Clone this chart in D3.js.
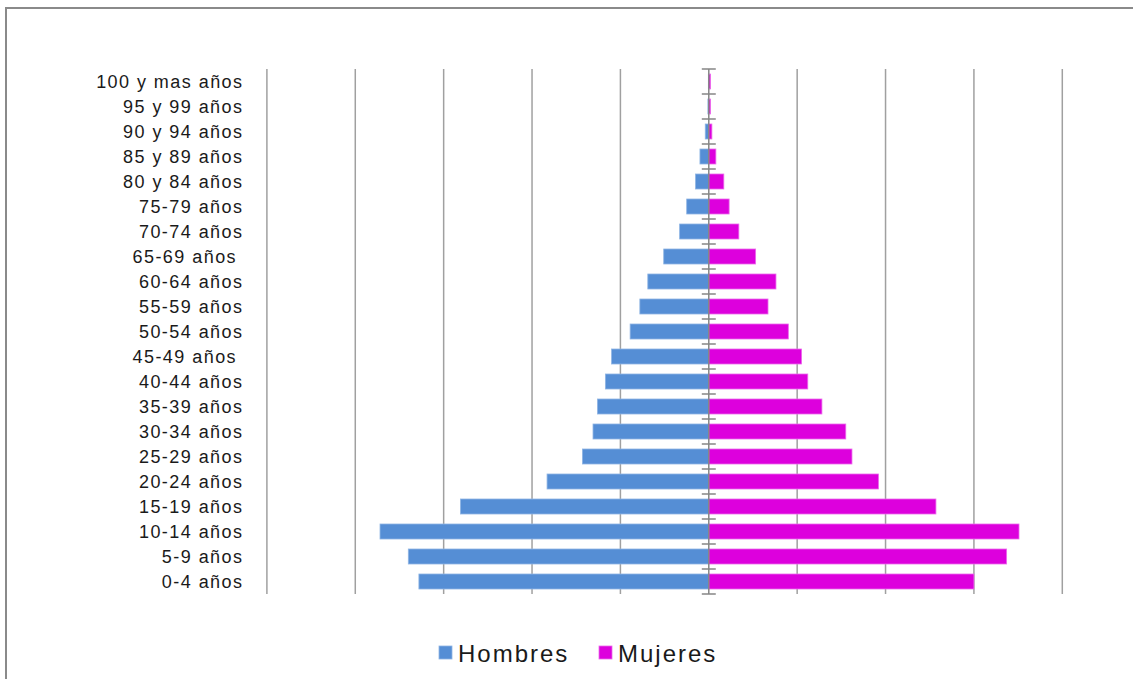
<!DOCTYPE html>
<html>
<head>
<meta charset="utf-8">
<script src="https://cdn.jsdelivr.net/npm/d3@7"></script>
<style>
  html, body { margin: 0; padding: 0; background: #fff; overflow: hidden; }
  svg { display: block; }
  text { font-family: "Liberation Sans", Arial, sans-serif; fill: #1a1a1a; white-space: pre; }
</style>
</head>
<body>
<svg id="chart" width="1133" height="679"></svg>
<script>
// Age groups, youngest first
const categories = [
  "0-4 años", "5-9 años", "10-14 años", "15-19 años", "20-24 años",
  "25-29 años", "30-34 años", "35-39 años", "40-44 años", "45-49 años ",
  "50-54 años", "55-59 años", "60-64 años", "65-69 años ", "70-74 años",
  "75-79 años", "80 y 84 años", "85 y 89 años", "90 y 94 años", "95 y 99 años",
  "100 y mas años"
];

// Share of population per age group
const hombres = [3.28, 3.40, 3.72, 2.81, 1.83, 1.43, 1.31, 1.26, 1.17, 1.10,
                 0.89, 0.78, 0.69, 0.51, 0.33, 0.25, 0.15, 0.10, 0.04, 0.01, 0.005];
const mujeres = [3.00, 3.37, 3.51, 2.57, 1.92, 1.62, 1.55, 1.28, 1.12, 1.05,
                 0.90, 0.67, 0.76, 0.53, 0.34, 0.23, 0.17, 0.08, 0.035, 0.02, 0.02];

const seriesNames = ["Hombres", "Mujeres"];
const gridTicks = [-5, -4, -3, -2, -1, 1, 2, 3, 4];

const colors = { Hombres: "#558ed5", Mujeres: "#dd00dd" };
const strokes = { Hombres: "#8fb5e4", Mujeres: "#ec6aec" };

const svg = d3.select("#chart");

// Outer frame
svg.append("rect")
  .attr("x", 6).attr("y", 8)
  .attr("width", 1300).attr("height", 900)
  .attr("fill", "none")
  .attr("stroke", "#8a8a8a")
  .attr("stroke-width", 2);

const x = d3.scaleLinear().domain([-5, 4]).range([266.9, 1062.3]);
const y = d3.scaleBand()
  .domain(categories.slice().reverse())
  .range([69, 594])
  .paddingInner(0.4)
  .paddingOuter(0.2);

// Vertical gridlines
svg.append("g")
  .selectAll("line")
  .data(gridTicks)
  .join("line")
  .attr("x1", d => x(d)).attr("x2", d => x(d))
  .attr("y1", 69).attr("y2", 594)
  .attr("stroke", "#a0a0a0")
  .attr("stroke-width", 1.5);

// Bars
const rows = categories.map((c, i) => ({ c, h: hombres[i], m: mujeres[i] }));

svg.append("g")
  .selectAll("rect")
  .data(rows)
  .join("rect")
  .attr("x", d => x(-d.h))
  .attr("y", d => y(d.c))
  .attr("width", d => x(0) - x(-d.h))
  .attr("height", y.bandwidth())
  .attr("fill", colors.Hombres)
  .attr("stroke", strokes.Hombres)
  .attr("stroke-width", 0.8);

svg.append("g")
  .selectAll("rect")
  .data(rows)
  .join("rect")
  .attr("x", x(0))
  .attr("y", d => y(d.c))
  .attr("width", d => x(d.m) - x(0))
  .attr("height", y.bandwidth())
  .attr("fill", colors.Mujeres)
  .attr("stroke", strokes.Mujeres)
  .attr("stroke-width", 0.8);

// Category axis at zero with tick marks between groups
const cx = x(0);
const step = y.step();
const [y0, y1] = y.range();
const boundaries = d3.range(categories.length + 1).map(i => y0 + i * step);
const axis = svg.append("g");
axis.append("line")
  .attr("x1", cx).attr("x2", cx)
  .attr("y1", y0).attr("y2", y1)
  .attr("stroke", "#868686")
  .attr("stroke-width", 1.5);
axis.selectAll("line.tick")
  .data(boundaries)
  .join("line")
  .attr("class", "tick")
  .attr("x1", cx - 7).attr("x2", cx + 7)
  .attr("y1", d => d).attr("y2", d => d)
  .attr("stroke", "#868686")
  .attr("stroke-width", 1.5);

// Category labels
svg.append("g")
  .selectAll("text")
  .data(categories)
  .join("text")
  .attr("x", 243.5)
  .attr("y", d => y(d) + y.bandwidth() / 2 + 6)
  .attr("text-anchor", "end")
  .style("font-size", "18px")
  .style("letter-spacing", "1.45px")
  .text(d => d);

// Legend
const legendItems = [
  { name: seriesNames[0], sx: 439, tx: 458 },
  { name: seriesNames[1], sx: 599, tx: 618 }
];
const legend = svg.append("g");
legend.selectAll("rect")
  .data(legendItems)
  .join("rect")
  .attr("x", d => d.sx).attr("y", 646)
  .attr("width", 13).attr("height", 13)
  .attr("fill", d => colors[d.name])
  .attr("stroke", d => strokes[d.name])
  .attr("stroke-width", 0.8);
legend.selectAll("text")
  .data(legendItems)
  .join("text")
  .attr("x", d => d.tx).attr("y", 662)
  .style("font-size", "24px")
  .style("letter-spacing", "2px")
  .text(d => d.name);
</script>
</body>
</html>
